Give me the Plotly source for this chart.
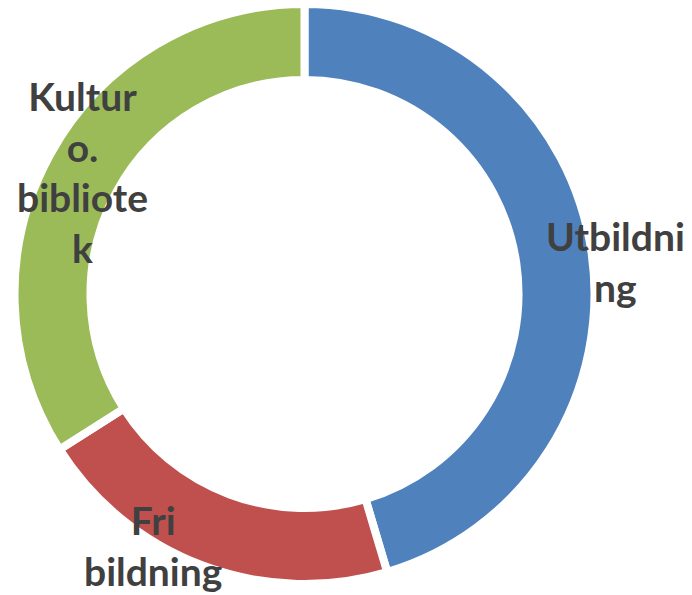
import plotly.graph_objects as go

categories = ["Utbildning", "Fri bildning", "Kultur o. bibliotek"]
values = [45.4, 20.6, 34.0]
label_texts = ["Utbildni<br>ng", "Fri<br>bildning", "Kultur<br>o.<br>bibliote<br>k"]
colors = ["#4F81BD", "#C0504D", "#9BBB59"]

W, H = 692, 595
cx, cy, R = 304.5, 294.0, 290.0

fig = go.Figure(go.Pie(
    labels=categories,
    values=values,
    hole=0.738,
    sort=False,
    direction="clockwise",
    rotation=0,
    textinfo="none",
    hoverinfo="label+percent",
    marker=dict(colors=colors, line=dict(color="white", width=8)),
    domain=dict(x=[(cx - R) / W, (cx + R) / W], y=[(H - cy - R) / H, (H - cy + R) / H]),
    showlegend=False,
))

label_pos = [(615, 261), (153, 545), (82, 172)]
for txt, (px, py) in zip(label_texts, label_pos):
    fig.add_annotation(
        x=px / W, y=1 - py / H, xref="paper", yref="paper",
        text=txt, showarrow=False, xanchor="center", yanchor="middle",
        align="center",
        font=dict(family="Lato", size=39, color="#404040", weight="bold"),
    )

fig.update_layout(
    width=W, height=H,
    margin=dict(l=0, r=0, t=0, b=0),
    paper_bgcolor="white", plot_bgcolor="white",
)

fig.write_html("out.html", config={"displayModeBar": False},
               post_script="document.body.style.margin='0';")
